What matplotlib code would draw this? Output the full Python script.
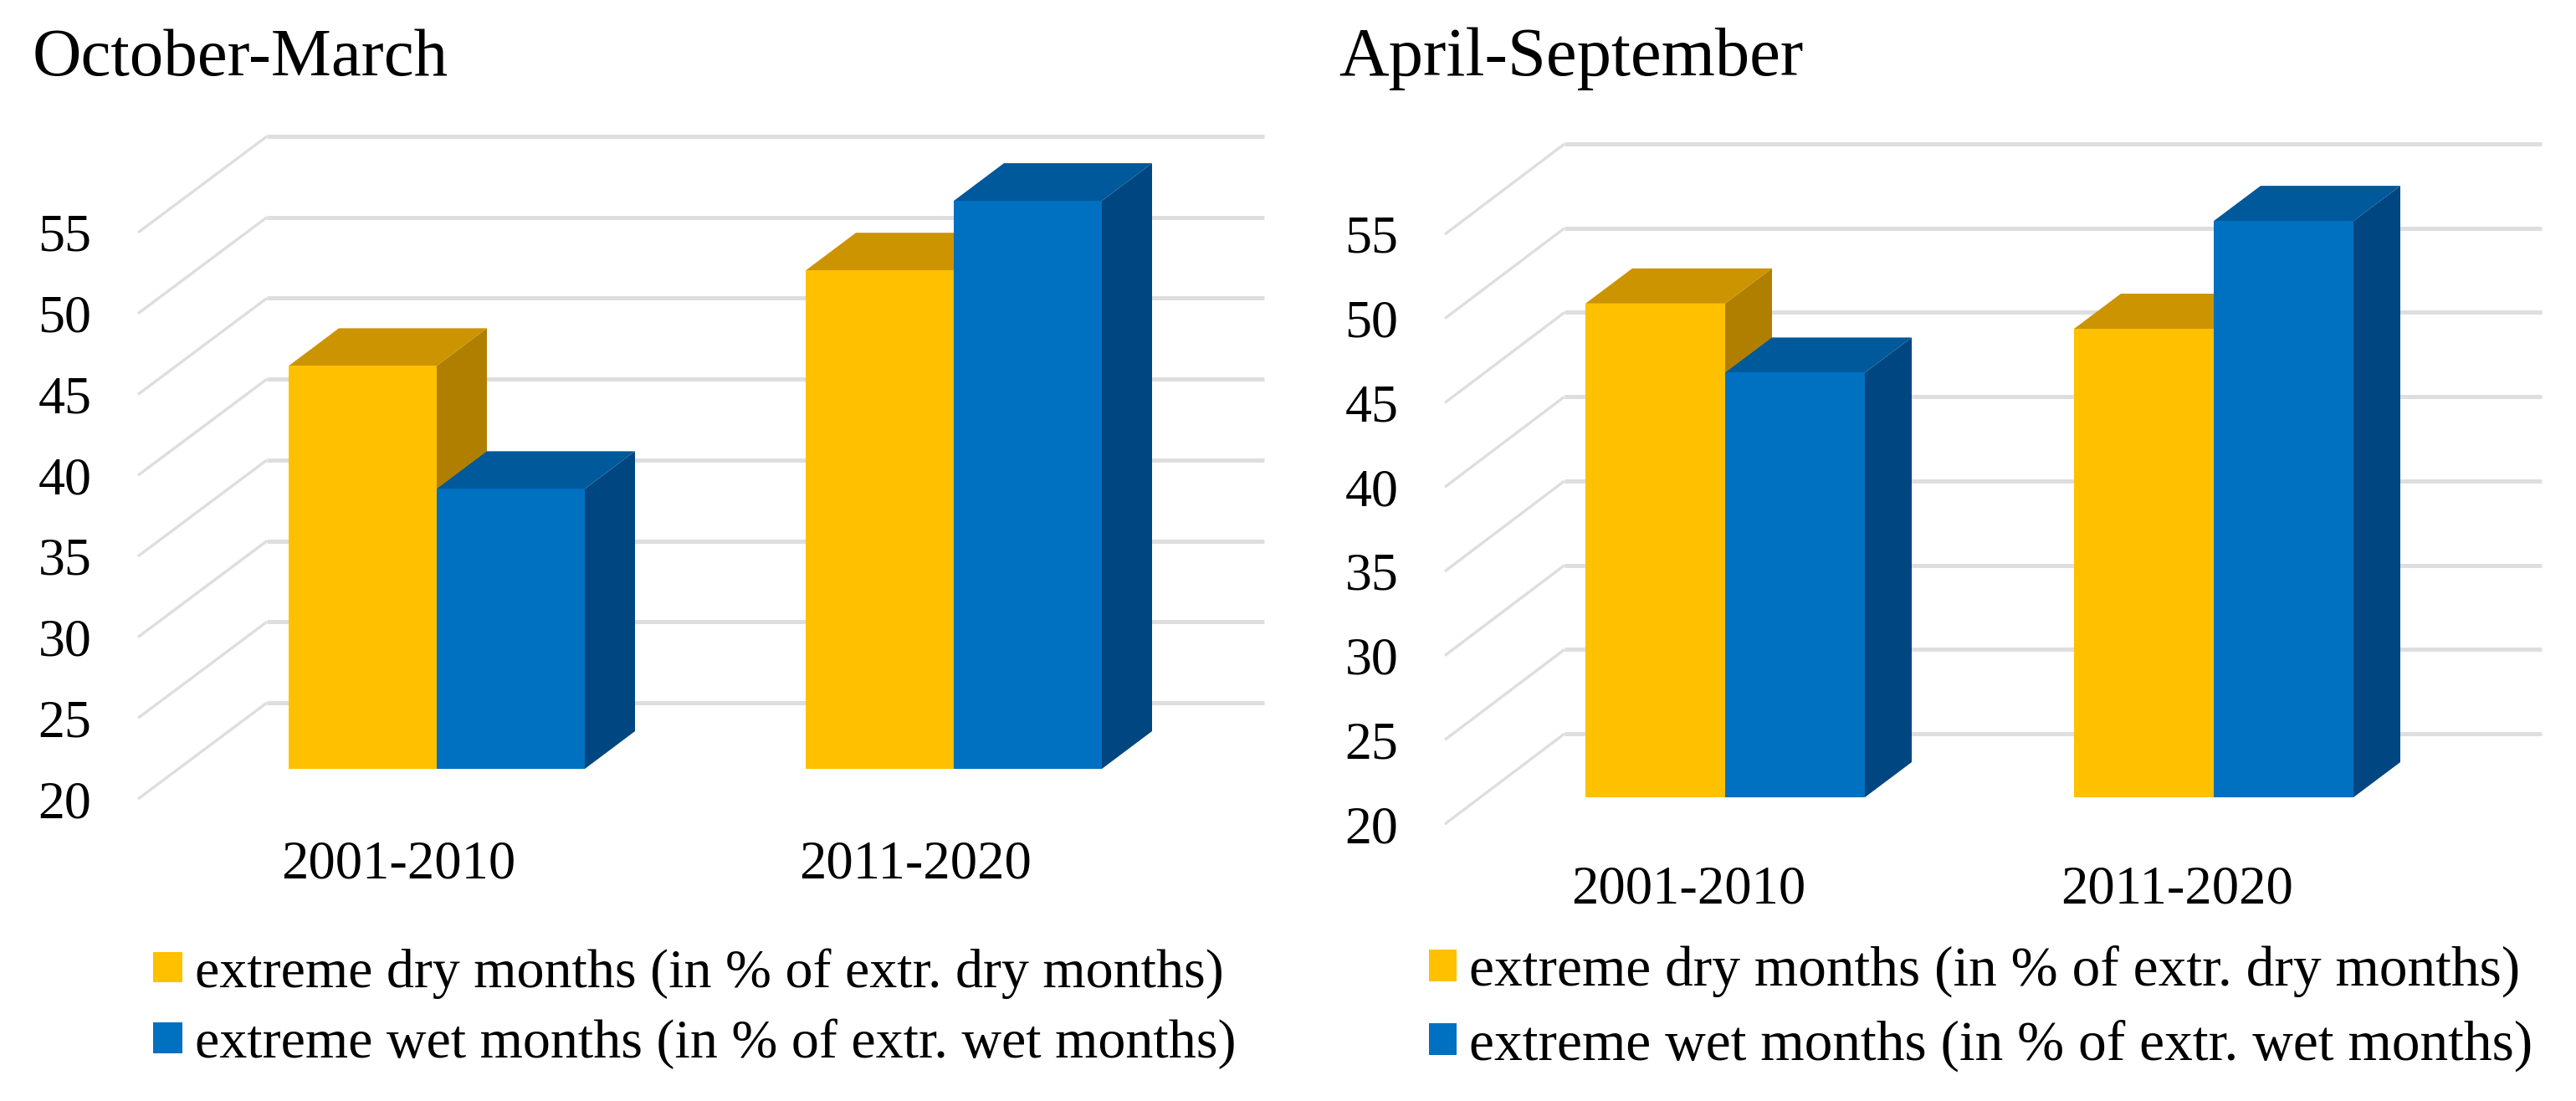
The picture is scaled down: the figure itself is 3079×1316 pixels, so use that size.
import matplotlib
matplotlib.use("Agg")
import matplotlib.pyplot as plt
from matplotlib.transforms import Affine2D

W, H = 3079, 1316
plt.rcParams['font.family'] = ['Liberation Serif', 'DejaVu Serif']

periods = ['2001-2010', '2011-2020']
axis_ticks = [20, 25, 30, 35, 40, 45, 50, 55]
series_names = ['extreme dry months (in % of extr. dry months)',
                'extreme wet months (in % of extr. wet months)']
dry_oct_mar = [44.9, 50.8]
wet_oct_mar = [37.3, 55.1]
dry_apr_sep = [49.3, 47.8]
wet_apr_sep = [45.2, 54.2]

C_DRY = ('#FFC000', '#CC9400', '#B07F00')
C_WET = ('#0070C0', '#00599A', '#004680')
GRID = '#DEDEDE'


def panel(fig, title, dry, wet, g):
    px_l, px_r = g['front_l'], g['front_r']
    px_b, px_t = g['y20'], g['y55']
    ax = fig.add_axes([px_l / W, 1 - px_b / H, (px_r - px_l) / W, (px_b - px_t) / H])
    pitch = g['c1'] - g['c0']
    ax.set_xlim((px_l - g['c0']) / pitch, (px_r - g['c0']) / pitch)
    ax.set_ylim(20, 55)
    ax.patch.set_alpha(0)
    for s in ax.spines.values():
        s.set_visible(False)
    unit_y = (px_b - px_t) / 35

    wall = ax.transData + Affine2D().translate(*g['wall'])
    plane = ax.transData + Affine2D().translate(*g['plane'])

    # gridlines: side wall (front to back) then back wall
    dxw, dyw = g['wall'][0] / pitch, g['wall'][1] / unit_y
    x_left, x_right = ax.get_xlim()
    for v in axis_ticks:
        ax.plot([x_left, x_left + dxw], [v, v + dyw], color=GRID, lw=2.4,
                clip_on=False, solid_capstyle='butt', zorder=1)
        ax.plot([x_left, x_right], [v, v], color=GRID, lw=3.6, transform=wall,
                clip_on=False, solid_capstyle='butt', zorder=1)

    bw = g['bar_w'] / pitch
    ddx, ddy = g['depth'][0] / pitch, g['depth'][1] / unit_y
    handles = []
    for vals, cols, side, name in ((dry, C_DRY, -1, series_names[0]),
                                   (wet, C_WET, 0, series_names[1])):
        z = 3 if side else 5
        for i, v in enumerate(vals):
            x0 = i + side * bw
            x1 = x0 + bw
            ax.fill([x1, x1 + ddx, x1 + ddx, x1], [20, 20 + ddy, v + ddy, v],
                    color=cols[2], lw=0, transform=plane, clip_on=False, zorder=z)
            ax.fill([x0, x1, x1 + ddx, x0 + ddx], [v, v, v + ddy, v + ddy],
                    color=cols[1], lw=0, transform=plane, clip_on=False, zorder=z)
        b = ax.bar([i + side * bw + bw / 2 for i in range(len(vals))],
                   [v - 20 for v in vals], bw, bottom=20, color=cols[0], lw=0,
                   transform=plane, clip_on=False, zorder=z + 1, label=name)
        handles.append(b)

    ax.set_yticks(axis_ticks)
    ax.set_xticks([0, 1], periods)
    ax.tick_params(axis='y', length=0, labelsize=46, pad=g['ypad'])
    ax.tick_params(axis='x', length=0, labelsize=46.5, pad=g['xpad'])

    fig.text(g['title_x'] / W, 1 - g['title_y'] / H, title, fontsize=g['title_fs'],
             ha='left', va='baseline', color='black')

    F = g['leg_fs'] / 0.72
    fig.legend(handles=handles, loc='upper left',
               bbox_to_anchor=(g['leg_x'] / W, 1 - g['leg_y'] / H),
               frameon=False, fontsize=g['leg_fs'], borderpad=0, borderaxespad=0,
               handlelength=g['hw'] / F, handleheight=g['hh'] / F,
               handletextpad=g['htp'] / F, labelspacing=g['lsp'])


fig = plt.figure(figsize=(W / 100, H / 100), dpi=100, facecolor='white')

panel(fig, 'October-March', dry_oct_mar, wet_oct_mar, dict(
    front_l=165, front_r=1357, y20=955, y55=278, c0=476, c1=1094,
    wall=(154, 115), plane=(46, 36), depth=(60, 45), bar_w=177,
    ypad=40, xpad=35, title_x=39, title_y=90, title_fs=58.2,
    leg_x=183, leg_y=1133, leg_fs=47.5, hw=35, hh=31, htp=15, lsp=0.36))

panel(fig, 'April-September', dry_apr_sep, wet_apr_sep, dict(
    front_l=1727, front_r=2895, y20=985, y55=280, c0=2018, c1=2602,
    wall=(143, 108), plane=(44, 32), depth=(56, 42), bar_w=167,
    ypad=40, xpad=35, title_x=1600, title_y=90, title_fs=59.5,
    leg_x=1708, leg_y=1130, leg_fs=48.5, hw=33, hh=32, htp=15, lsp=0.38))

fig.savefig('out.png', dpi=100, facecolor='white')
